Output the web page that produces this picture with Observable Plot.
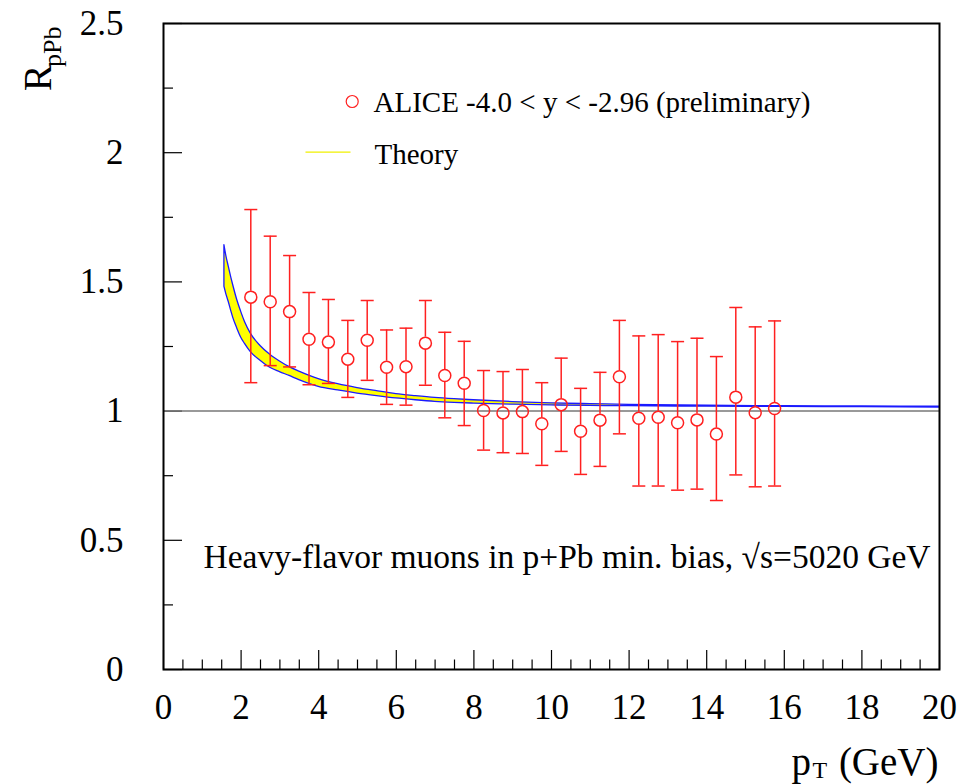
<!DOCTYPE html>
<html>
<head>
<meta charset="utf-8">
<script src="https://cdn.jsdelivr.net/npm/d3@7"></script>
<script src="https://cdn.jsdelivr.net/npm/@observablehq/plot@0.6"></script>
<style>
  html, body { margin: 0; padding: 0; background: #fff; }
  #chart svg { display: block; }
</style>
</head>
<body>
<div id="chart"></div>
<script>
// ALICE data points (pT bin centres, RpPb, error bar ends)
const ptX = [2.25, 2.75, 3.25, 3.75, 4.25, 4.75, 5.25, 5.75, 6.25, 6.75, 7.25, 7.75,
  8.25, 8.75, 9.25, 9.75, 10.25, 10.75, 11.25, 11.75, 12.25, 12.75, 13.25, 13.75,
  14.25, 14.75, 15.25, 15.75];
const rpPb = [1.441, 1.423, 1.385, 1.278, 1.267, 1.201, 1.274, 1.170, 1.172, 1.263, 1.138, 1.108,
  1.002, 0.993, 0.998, 0.951, 1.025, 0.922, 0.965, 1.133, 0.972, 0.976, 0.955, 0.966,
  0.911, 1.054, 0.994, 1.010];
const errHigh = [1.780, 1.677, 1.602, 1.459, 1.432, 1.351, 1.428, 1.314, 1.321, 1.428, 1.305, 1.270,
  1.157, 1.153, 1.161, 1.110, 1.205, 1.088, 1.150, 1.351, 1.291, 1.296, 1.269, 1.282,
  1.211, 1.401, 1.326, 1.349];
const errLow = [1.110, 1.176, 1.171, 1.102, 1.107, 1.053, 1.119, 1.026, 1.023, 1.100, 0.974, 0.944,
  0.849, 0.839, 0.836, 0.790, 0.844, 0.755, 0.786, 0.912, 0.710, 0.710, 0.694, 0.698,
  0.654, 0.753, 0.707, 0.710];

// Theory band (lower and upper edges)
const theoryX = [1.57, 1.62, 1.68, 1.75, 1.80, 1.90, 2.0, 2.1, 2.25, 2.5, 2.75, 3.0, 3.25, 3.5,
  4.0, 4.5, 5.0, 5.5, 6.0, 6.5, 7.0, 7.5, 8.0, 9.0, 10, 11, 12, 14, 16, 18, 20];
const theoryUpper = [1.642, 1.600, 1.560, 1.515, 1.485, 1.430, 1.385, 1.345, 1.300, 1.252, 1.218,
  1.192, 1.170, 1.153, 1.124, 1.104, 1.089, 1.077, 1.066, 1.058, 1.051, 1.046, 1.042, 1.035,
  1.030, 1.027, 1.024, 1.021, 1.019, 1.018, 1.017];
const theoryLower = [1.481, 1.452, 1.423, 1.385, 1.360, 1.320, 1.285, 1.260, 1.228, 1.195, 1.168,
  1.151, 1.136, 1.120, 1.094, 1.080, 1.068, 1.058, 1.049, 1.042, 1.036, 1.032, 1.029, 1.025,
  1.022, 1.020, 1.019, 1.017, 1.016, 1.015, 1.014];

// Axis ticks
const xMajorTicks = [0, 2, 4, 6, 8, 10, 12, 14, 16, 18, 20];
const xMinorTicks = d3.range(0, 20.001, 0.5).filter(v => v % 2 !== 0);
const yMajorTicks = [0, 0.5, 1, 1.5, 2, 2.5];
const yMinorTicks = [0.25, 0.75, 1.25, 1.75, 2.25];
const refLine = [1];

const legendData = "ALICE -4.0 < y < -2.96 (preliminary)";
const legendTheory = "Theory";
const annotation = "Heavy-flavor muons in p+Pb min. bias, \u221As=5020 GeV";

const points = ptX.map((x, i) => ({x, y: rpPb[i], lo: errLow[i], hi: errHigh[i]}));
const theory = theoryX.map((x, i) => ({x, lo: theoryLower[i], hi: theoryUpper[i]}));

const FONT = "Liberation Serif, Times New Roman, serif";
const RED = "#ff2020";
const R = 6;

const capSymbol = { draw(ctx) { ctx.moveTo(-6.5, 0); ctx.lineTo(6.5, 0); } };
const lineSymbol = { draw(ctx) { ctx.moveTo(-22.5, 0); ctx.lineTo(22.5, 0); } };

const chart = Plot.plot({
  width: 962,
  height: 784,
  marginLeft: 163,
  marginRight: 23,
  marginTop: 23,
  marginBottom: 115,
  style: {fontFamily: FONT, fontSize: "35px", background: "white", color: "black"},
  x: {domain: [0, 20]},
  y: {domain: [0, 2.5]},
  marks: [
    // tick labels
    Plot.axisX({ticks: xMajorTicks, tickSize: 0, tickPadding: 25, label: null,
      tickFormat: d => String(d), fontSize: 35, fontFamily: FONT}),
    Plot.axisY({ticks: yMajorTicks, tickSize: 0, tickPadding: 40, label: null,
      tickFormat: d => String(d), fontSize: 35, fontFamily: FONT}),
    // inward ticks
    Plot.ruleX(xMajorTicks, {x: d => d, y1: 0, y2: 0, insetBottom: 19, stroke: "black", strokeWidth: 1.2}),
    Plot.ruleX(xMinorTicks, {x: d => d, y1: 0, y2: 0, insetBottom: 9.5, stroke: "black", strokeWidth: 1.2}),
    Plot.ruleY(yMajorTicks, {y: d => d, x1: 0, x2: 0, insetRight: -19, stroke: "black", strokeWidth: 1.2}),
    Plot.ruleY(yMinorTicks, {y: d => d, x1: 0, x2: 0, insetRight: -10, stroke: "black", strokeWidth: 1.2}),
    // reference line at 1
    Plot.ruleY(refLine, {stroke: "#777", strokeWidth: 1.5}),
    // theory band
    Plot.areaY(theory, {x: "x", y1: "lo", y2: "hi", fill: "#ffff00", stroke: "#1a1aff",
      strokeWidth: 1.3, curve: "monotone-x"}),
    // error bars (gap inside marker)
    Plot.ruleX(points, {x: "x", y1: "hi", y2: "y", insetBottom: R, stroke: RED, strokeWidth: 1.5}),
    Plot.ruleX(points, {x: "x", y1: "y", y2: "lo", insetTop: R, stroke: RED, strokeWidth: 1.5}),
    Plot.dot(points, {x: "x", y: "hi", symbol: capSymbol, stroke: RED, strokeWidth: 1.5}),
    Plot.dot(points, {x: "x", y: "lo", symbol: capSymbol, stroke: RED, strokeWidth: 1.5}),
    Plot.dot(points, {x: "x", y: "y", r: R, stroke: RED, strokeWidth: 1.5, fill: "none"}),
    // legend
    Plot.dot([legendData], {frameAnchor: "top-left", dx: 188.7, dy: 78, r: R, stroke: RED, strokeWidth: 1.2, fill: "none"}),
    Plot.text([legendData], {frameAnchor: "top-left", text: d => d, dx: 210, dy: 88.7,
      textAnchor: "start", lineAnchor: "bottom", fontSize: 29, fontFamily: FONT, fill: "black"}),
    Plot.dot([legendTheory], {frameAnchor: "top-left", dx: 164.5, dy: 128.7, symbol: lineSymbol, stroke: "#f0f000", strokeWidth: 1.3}),
    Plot.text([legendTheory], {frameAnchor: "top-left", text: d => d, dx: 211, dy: 140,
      textAnchor: "start", lineAnchor: "bottom", fontSize: 29, fontFamily: FONT, fill: "black"}),
    // annotation
    Plot.text([annotation], {frameAnchor: "top-left", text: d => d, dx: 40, dy: 544,
      textAnchor: "start", lineAnchor: "bottom", fontSize: 33.5, fontFamily: FONT, fill: "black"}),
    // y axis title R_pPb
    Plot.text(["R"], {frameAnchor: "top-left", text: d => d, dx: -113, dy: 41, rotate: -90,
      textAnchor: "end", lineAnchor: "bottom", fontSize: 40, fontFamily: FONT, fill: "black"}),
    Plot.text(["pPb"], {frameAnchor: "top-left", text: d => d, dx: -103, dy: 3, rotate: -90,
      textAnchor: "end", lineAnchor: "bottom", fontSize: 26, fontFamily: FONT, fill: "black"}),
    // x axis title p_T (GeV)
    Plot.text(["(GeV)"], {frameAnchor: "bottom-right", text: d => d, dx: -1, dy: 105,
      textAnchor: "end", lineAnchor: "bottom", fontSize: 39, fontFamily: FONT, fill: "black"}),
    Plot.text(["p"], {frameAnchor: "bottom-right", text: d => d, dx: -148, dy: 105,
      textAnchor: "start", lineAnchor: "bottom", fontSize: 39, fontFamily: FONT, fill: "black"}),
    Plot.text(["T"], {frameAnchor: "bottom-right", text: d => d, dx: -127, dy: 108,
      textAnchor: "start", lineAnchor: "bottom", fontSize: 24, fontFamily: FONT, fill: "black"}),
    Plot.frame({stroke: "black", strokeWidth: 2})
  ]
});
document.getElementById("chart").appendChild(chart);
</script>
</body>
</html>
